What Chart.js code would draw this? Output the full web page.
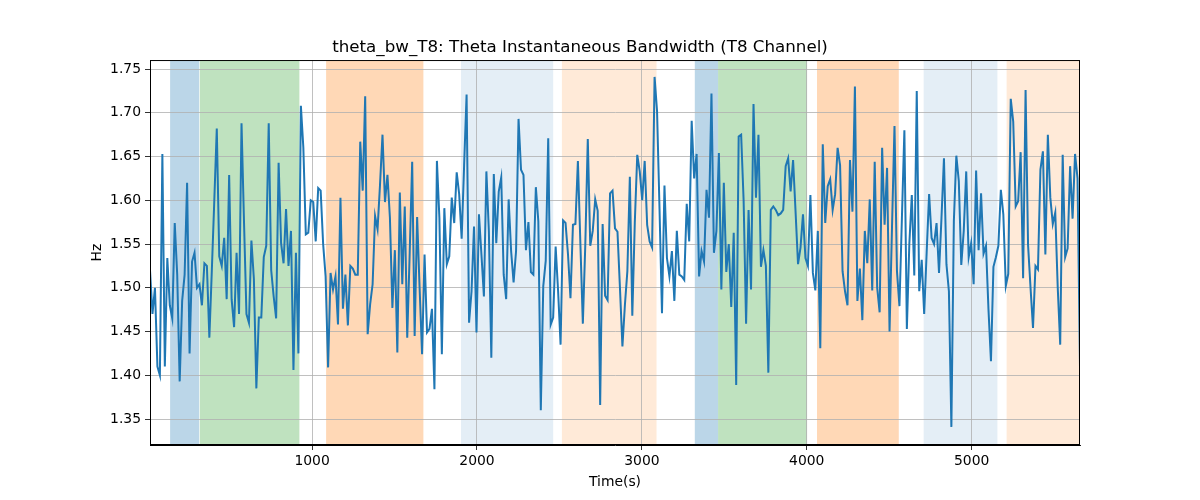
<!DOCTYPE html>
<html>
<head>
<meta charset="utf-8">
<title>theta_bw_T8</title>
<script src="https://cdn.jsdelivr.net/npm/chart.js@4.4.1/dist/chart.umd.min.js"></script>
<style>
  html, body { margin: 0; padding: 0; background: #fff; }
  #wrap { width: 1200px; height: 500px; }
</style>
</head>
<body>
<div id="wrap"><canvas id="bwChart" width="1200" height="500"></canvas></div>
<script>
// sampling of the trace (seconds)
const t0 = 17;
const dt = 15;

// theta instantaneous bandwidth (Hz)
const bwValues = [
  1.52, 1.47, 1.50, 1.41, 1.40, 1.653, 1.41, 1.534, 1.48, 1.465, 1.574, 1.515, 1.393, 1.485, 1.515, 1.62, 1.425, 1.53, 1.54, 1.50,
  1.504, 1.48, 1.528, 1.525, 1.443, 1.52, 1.60, 1.682, 1.536, 1.525, 1.557, 1.487, 1.629, 1.487, 1.455, 1.54, 1.47, 1.688, 1.576, 1.47,
  1.46, 1.554, 1.51, 1.385, 1.466, 1.466, 1.535, 1.548, 1.688, 1.52, 1.49, 1.465, 1.643, 1.551, 1.528,
  1.59, 1.525, 1.565, 1.406, 1.54, 1.425, 1.708, 1.66, 1.561, 1.563, 1.60, 1.598, 1.553, 1.614, 1.611, 1.55, 1.513, 1.409, 1.517, 1.498,
  1.513, 1.458, 1.603, 1.476, 1.515, 1.457, 1.525, 1.522, 1.515, 1.515, 1.667, 1.611, 1.719, 1.447, 1.481, 1.504, 1.582, 1.567, 1.618, 1.675,
  1.598, 1.629, 1.58, 1.477, 1.543, 1.426, 1.609, 1.504, 1.593, 1.443, 1.54, 1.644, 1.445, 1.581,
  1.50, 1.424, 1.538, 1.449, 1.453, 1.476, 1.384, 1.645, 1.58, 1.424, 1.591, 1.527, 1.536, 1.603, 1.574, 1.632, 1.607, 1.556, 1.64, 1.721,
  1.46, 1.496, 1.57, 1.449, 1.584, 1.538, 1.49, 1.633, 1.565, 1.42, 1.63, 1.551, 1.61, 1.626, 1.515, 1.487, 1.601, 1.542, 1.506, 1.542,
  1.693, 1.635, 1.629, 1.543, 1.575, 1.518, 1.515, 1.615, 1.576, 1.36, 1.502, 1.531, 1.671, 1.458,
  1.466, 1.547, 1.496, 1.435, 1.577, 1.574, 1.538, 1.488, 1.572, 1.573, 1.645, 1.551, 1.459, 1.55, 1.67, 1.548, 1.565, 1.601, 1.588, 1.366,
  1.573, 1.491, 1.486, 1.608, 1.611, 1.568, 1.564, 1.50, 1.433, 1.48, 1.519, 1.627, 1.468, 1.574, 1.652, 1.633, 1.60, 1.645, 1.572, 1.553,
  1.546, 1.741, 1.702, 1.59, 1.471, 1.617, 1.534, 1.513, 1.542, 1.485, 1.565, 1.515, 1.513, 1.509,
  1.596, 1.553, 1.691, 1.625, 1.653, 1.513, 1.542, 1.53, 1.612, 1.58, 1.722, 1.54, 1.565, 1.654, 1.498, 1.62, 1.518, 1.55, 1.478, 1.563,
  1.389, 1.673, 1.675, 1.60, 1.459, 1.589, 1.498, 1.71, 1.603, 1.675, 1.524, 1.543, 1.525, 1.403, 1.589, 1.593, 1.589, 1.583, 1.585, 1.589,
  1.639, 1.648, 1.61, 1.646, 1.587, 1.527, 1.546, 1.584, 1.534, 1.525, 1.606, 1.517, 1.497, 1.565,
  1.431, 1.664, 1.574, 1.616, 1.624, 1.589, 1.607, 1.66, 1.64, 1.519, 1.496, 1.48, 1.646, 1.587, 1.73, 1.485, 1.522, 1.463, 1.565, 1.528,
  1.601, 1.497, 1.644, 1.50, 1.472, 1.66, 1.572, 1.637, 1.45, 1.57, 1.685, 1.519, 1.479, 1.58, 1.68, 1.453, 1.55, 1.606, 1.514, 1.725,
  1.496, 1.532, 1.47, 1.54, 1.607, 1.557, 1.55, 1.574, 1.517, 1.58, 1.648, 1.527, 1.496, 1.341,
  1.576, 1.651, 1.622, 1.526, 1.565, 1.633, 1.535, 1.551, 1.504, 1.634, 1.543, 1.608, 1.539, 1.548, 1.475, 1.416, 1.524, 1.535, 1.548, 1.612,
  1.584, 1.502, 1.516, 1.716, 1.69, 1.593, 1.599, 1.655, 1.511, 1.726, 1.549, 1.50, 1.454, 1.525, 1.521, 1.635, 1.656, 1.538, 1.675, 1.603,
  1.573, 1.586, 1.50, 1.435, 1.652, 1.535, 1.545, 1.639, 1.579, 1.653, 1.625, 1.41
];

// tick positions
const xTicks = [1000, 2000, 3000, 4000, 5000];
const yTicks = [1.35, 1.40, 1.45, 1.50, 1.55, 1.60, 1.65, 1.70, 1.75];

// shaded segments (seconds) and their kind
const spanStarts = [139, 319, 1085, 1903, 2515, 3321, 3462, 4062, 4709, 5212];
const spanEnds   = [315, 923, 1675, 2462, 3089, 3462, 4002, 4558, 5156, 5657];
const spanKinds  = ['blue', 'green', 'orange', 'paleblue', 'paleorange', 'blue', 'green', 'orange', 'paleblue', 'paleorange'];

const yMin = 1.3203, yMax = 1.7603;

const spanFill = {
  blue: 'rgba(31,119,180,0.3)',
  green: 'rgba(44,160,44,0.3)',
  orange: 'rgba(255,127,14,0.3)',
  paleblue: 'rgba(31,119,180,0.12)',
  paleorange: 'rgba(255,127,14,0.16)'
};

const points = bwValues.map((v, i) => ({ x: t0 + i * dt, y: v }));
const tEnd = t0 + (bwValues.length - 1) * dt;

const spansPlugin = {
  id: 'spans',
  beforeDraw(chart) {
    const { ctx, chartArea, scales } = chart;
    ctx.save();
    ctx.beginPath();
    ctx.rect(chartArea.left, chartArea.top, chartArea.width, chartArea.height);
    ctx.clip();
    for (let i = 0; i < spanStarts.length; i++) {
      const x1 = scales.x.getPixelForValue(spanStarts[i]);
      const x2 = scales.x.getPixelForValue(spanEnds[i]);
      ctx.fillStyle = spanFill[spanKinds[i]];
      ctx.fillRect(x1, chartArea.top, x2 - x1, chartArea.height);
    }
    ctx.restore();
  },
  afterDraw(chart) {
    // frame on all four sides like matplotlib spines
    const { ctx, chartArea } = chart;
    ctx.save();
    ctx.strokeStyle = '#000';
    ctx.lineWidth = 1;
    ctx.strokeRect(chartArea.left + 0.5, chartArea.top + 0.5, chartArea.width - 1, chartArea.height - 1);
    ctx.restore();
  }
};

Chart.defaults.font.family = "'DejaVu Sans', sans-serif";
Chart.defaults.color = '#000';

const ctx = document.getElementById('bwChart').getContext('2d');
const bwChart = new Chart(ctx, {
  type: 'line',
  data: {
    datasets: [{
      label: 'theta_bw_T8',
      data: points,
      borderColor: '#1f77b4',
      borderWidth: 2,
      pointRadius: 0,
      tension: 0,
      fill: false
    }]
  },
  options: {
    responsive: false,
    animation: false,
    layout: { padding: { left: 80, right: 120, top: 0, bottom: 0 } },
    plugins: {
      legend: { display: false },
      tooltip: { enabled: false },
      title: {
        display: true,
        text: 'theta_bw_T8: Theta Instantaneous Bandwidth (T8 Channel)',
        font: { size: 16.7, weight: 'normal' },
        color: '#000',
        padding: { top: 38, bottom: 2 }
      }
    },
    scales: {
      x: {
        type: 'linear',
        min: t0,
        max: tEnd,
        afterFit: s => { s.height = 55; },
        afterBuildTicks: s => { s.ticks = xTicks.map(v => ({ value: v })); },
        border: { color: '#000', width: 1 },
        grid: { color: '#b0b0b0', lineWidth: 0.8, tickColor: '#000', tickLength: 5 },
        ticks: {
          maxRotation: 0,
          autoSkip: false,
          padding: 3,
          font: { size: 13.9 },
          callback: v => String(v)
        },
        title: { display: true, text: 'Time(s)', font: { size: 13.9 }, padding: { top: 2, bottom: 9 } }
      },
      y: {
        min: yMin,
        max: yMax,
        afterFit: s => { s.width = 70; },
        afterBuildTicks: s => { s.ticks = yTicks.map(v => ({ value: v })); },
        border: { color: '#000', width: 1 },
        grid: { color: '#b0b0b0', lineWidth: 0.8, tickColor: '#000', tickLength: 5 },
        ticks: {
          autoSkip: false,
          padding: 4,
          font: { size: 13.9 },
          callback: v => v.toFixed(2)
        },
        title: { display: true, text: 'Hz', font: { size: 13.9 }, padding: { top: 9, bottom: 4 } }
      }
    }
  },
  plugins: [spansPlugin]
});
</script>
</body>
</html>
